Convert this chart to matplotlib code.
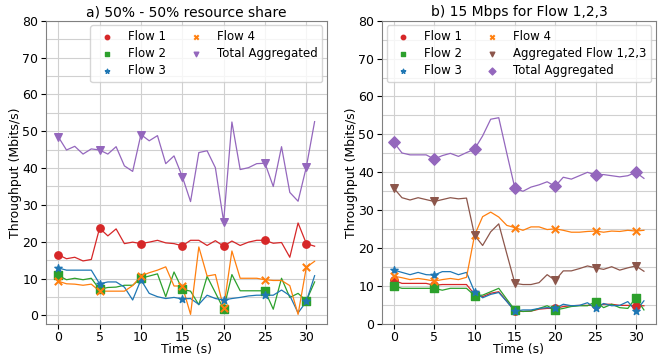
import numpy as np
import matplotlib
matplotlib.use("Agg")
import matplotlib.pyplot as plt
from matplotlib.ticker import MultipleLocator

time_s = list(range(32))

# a) 50% - 50% resource share
a_flow1 = [16.5, 15.4, 15.8, 14.8, 15.2, 23.7, 21.6, 23.5, 19.5, 19.9, 19.5, 19.9, 20.4, 19.7, 19.5, 18.9,
           20.4, 20.4, 19.0, 20.3, 18.8, 20.2, 19.0, 19.9, 20.4, 20.4, 19.6, 19.8, 15.8, 25.1, 19.5, 18.8]
a_flow2 = [10.9, 9.7, 10.1, 9.7, 10.1, 7.1, 7.6, 7.7, 8.2, 8.2, 10.1, 10.7, 11.3, 5.1, 11.8, 7.1,
           6.6, 2.9, 10.6, 6.2, 1.7, 11.1, 6.7, 6.7, 6.7, 6.7, 1.7, 10.1, 4.9, 6.0, 4.0, 9.1]
a_flow3 = [12.9, 12.3, 12.3, 12.3, 12.3, 8.6, 9.1, 9.1, 7.7, 4.2, 9.7, 6.0, 5.1, 4.6, 4.9, 4.5,
           4.6, 3.0, 5.5, 4.6, 4.2, 4.6, 4.9, 5.3, 5.5, 5.5, 5.5, 6.9, 5.4, 0.7, 3.8, 10.8]
a_flow4 = [9.3, 8.6, 8.5, 8.2, 8.5, 6.6, 6.6, 6.6, 6.6, 8.1, 10.7, 11.6, 12.3, 13.2, 8.0, 8.0,
           0.3, 18.6, 10.7, 11.1, 2.0, 17.5, 10.1, 10.1, 10.1, 9.7, 9.5, 9.5, 8.1, 0.3, 13.1, 14.7]
a_total = [48.5, 44.9, 45.9, 43.8, 45.2, 44.9, 43.8, 45.8, 40.6, 39.1, 49.1, 47.4, 48.8, 41.2, 43.3, 37.7,
           30.9, 44.2, 44.7, 40.1, 25.5, 52.5, 39.6, 40.1, 41.2, 41.3, 35.0, 45.8, 33.4, 31.0, 40.3, 52.6]

# b) 15 Mbps for Flow 1,2,3
b_flow1 = [11.5, 10.7, 10.7, 10.7, 10.7, 10.2, 10.4, 10.4, 10.4, 10.4, 7.8, 7.2, 8.1, 8.5, 6.0, 3.4,
           3.3, 3.4, 3.9, 4.1, 4.1, 4.6, 4.8, 4.9, 4.9, 4.9, 5.2, 5.2, 4.9, 4.9, 4.8, 4.8]
b_flow2 = [10.0, 9.4, 9.4, 9.4, 9.4, 9.4, 8.9, 9.4, 9.4, 9.4, 7.5, 7.6, 8.5, 9.4, 6.5, 3.7,
           3.3, 3.4, 4.1, 4.8, 3.7, 4.1, 4.6, 4.8, 4.8, 5.9, 4.3, 5.2, 4.3, 4.1, 6.9, 3.7]
b_flow3 = [14.2, 13.6, 13.0, 13.6, 13.0, 12.9, 13.8, 13.8, 13.0, 13.6, 8.5, 6.9, 7.8, 8.3, 5.9, 3.4,
           3.7, 3.7, 4.1, 4.3, 4.1, 5.2, 4.8, 4.9, 5.6, 4.1, 5.4, 4.8, 4.9, 5.9, 3.4, 6.1]
b_flow4 = [12.6, 12.2, 11.7, 12.0, 11.7, 11.3, 11.7, 12.0, 11.7, 12.3, 23.4, 28.3, 29.5, 28.2, 26.0, 25.4,
           24.7, 25.6, 25.6, 24.9, 25.1, 24.7, 24.2, 24.2, 24.4, 24.5, 24.2, 24.5, 24.4, 24.7, 24.5, 24.7]
b_agg123 = [35.8, 33.3, 32.7, 33.3, 32.8, 32.3, 32.8, 33.3, 33.0, 33.2, 23.4, 20.7, 24.3, 26.4, 18.5, 10.7,
            10.4, 10.4, 10.9, 13.0, 11.5, 14.0, 14.0, 14.6, 15.3, 14.8, 14.4, 15.1, 14.2, 14.8, 15.3, 13.9]
b_total = [47.9, 45.1, 44.6, 44.6, 44.6, 43.5, 44.4, 45.0, 44.2, 45.2, 46.1, 49.6, 54.0, 54.4, 45.0, 35.8,
           35.0, 36.1, 36.7, 37.5, 36.3, 38.7, 38.2, 39.1, 40.0, 39.3, 39.4, 39.1, 38.8, 39.1, 40.0, 38.4]

FS = 9


def draw(ax, series, title, ylim_low):
    t = np.array(time_s)
    for vals, label, color, marker, ms in series:
        vals = np.array(vals)
        ax.plot(t, vals, color=color, lw=0.9)
        ax.scatter(t[::5], vals[::5], color=color, marker=marker, s=ms, label=label, zorder=3)
    ax.set_title(title, fontsize=10, pad=3)
    ax.set_xlabel("Time (s)", fontsize=FS, labelpad=-1)
    ax.set_ylabel("Throughput (Mbits/s)", fontsize=FS, labelpad=0)
    ax.set_ylim(ylim_low, 80)
    ax.set_xlim(-1.5, 32.5)
    ax.set_xticks(range(0, 31, 5))
    ax.set_yticks(range(0, 81, 10))
    ax.yaxis.set_minor_locator(MultipleLocator(5))
    ax.tick_params(labelsize=FS, pad=2)
    ax.tick_params(axis="x", pad=1.5)
    ax.tick_params(which="minor", length=0)
    ax.grid(True, which="both", color="#d0d0d0", lw=0.8)
    ax.set_axisbelow(True)
    for s in ax.spines.values():
        s.set_color("#808080")


fig = plt.figure(figsize=(6.64, 3.56), dpi=100)
ax1 = fig.add_axes([0.069, 0.09, 0.4235, 0.852])
ax2 = fig.add_axes([0.575, 0.09, 0.413, 0.852])

draw(ax1, [
    (a_flow1, "Flow 1", "tab:red", "o", 28),
    (a_flow2, "Flow 2", "tab:green", "s", 28),
    (a_flow3, "Flow 3", "tab:blue", "*", 30),
    (a_flow4, "Flow 4", "tab:orange", "x", 28),
    (a_total, "Total Aggregated", "tab:purple", "v", 30),
], "a) 50% - 50% resource share", -2.3)

draw(ax2, [
    (b_flow1, "Flow 1", "tab:red", "o", 28),
    (b_flow2, "Flow 2", "tab:green", "s", 28),
    (b_flow3, "Flow 3", "tab:blue", "*", 30),
    (b_flow4, "Flow 4", "tab:orange", "x", 28),
    (b_agg123, "Aggregated Flow 1,2,3", "tab:brown", "v", 30),
    (b_total, "Total Aggregated", "tab:purple", "D", 34),
], "b) 15 Mbps for Flow 1,2,3", 0)

ax1.legend(ncol=2, fontsize=8.5, loc="upper right", markerscale=0.6, labelspacing=0.35,
           handletextpad=0.8, columnspacing=1.5, borderaxespad=0.4)
ax2.legend(ncol=2, fontsize=8.5, loc="upper center", markerscale=0.6, labelspacing=0.35,
           handletextpad=0.8, columnspacing=1.5, borderaxespad=0.4)

fig.savefig("out.png", dpi=100)
